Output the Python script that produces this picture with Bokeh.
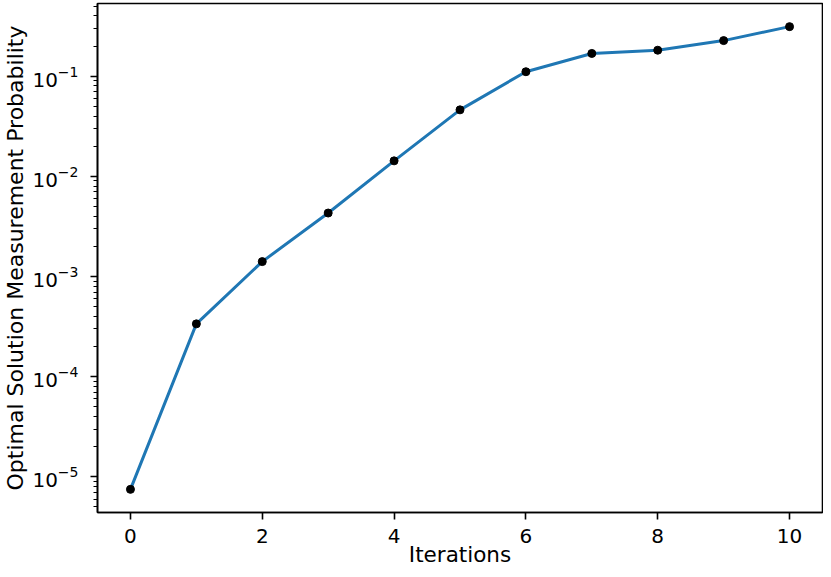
import math
from bokeh.plotting import figure
from bokeh.models import FixedTicker, Range1d, ColumnDataSource
from bokeh.embed import file_html
from bokeh.resources import INLINE

iterations = [0, 1, 2, 3, 4, 5, 6, 7, 8, 9, 10]
probability = [7.5e-6, 3.37e-4, 1.41e-3, 4.31e-3, 1.43e-2, 4.62e-2,
               0.111, 0.169, 0.182, 0.227, 0.313]
x_ticks = [0, 2, 4, 6, 8, 10]
y_decades = [-5, -4, -3, -2, -1]
x_label = "Iterations"
y_label = "Optimal Solution Measurement Probability"

src = ColumnDataSource(dict(x=iterations, y=probability))

xmin, xmax = min(iterations), max(iterations)
xpad = 0.05 * (xmax - xmin)
lmin, lmax = math.log10(min(probability)), math.log10(max(probability))
lpad = 0.05 * (lmax - lmin)

p = figure(width=823, height=569, y_axis_type="log", output_backend="svg",
           toolbar_location=None,
           x_range=Range1d(xmin - xpad, xmax + xpad),
           y_range=Range1d(10 ** (lmin - lpad), 10 ** (lmax + lpad)),
           min_border_left=97, min_border_right=1, min_border_top=3,
           min_border_bottom=57)

p.xgrid.visible = False
p.ygrid.visible = False
p.outline_line_color = "black"
p.outline_line_width = 1.6
p.outline_line_alpha = 1.0
p.background_fill_color = "white"
p.border_fill_color = "white"

p.line("x", "y", source=src, line_width=3, color="#1f77b4")
p.scatter("x", "y", source=src, size=8, color="black")

p.xaxis.ticker = FixedTicker(ticks=x_ticks)
p.yaxis.ticker = FixedTicker(
    ticks=[10.0 ** d for d in y_decades],
    minor_ticks=[m * 10.0 ** d for d in range(-6, 1) for m in range(2, 10)])

for ax in (p.xaxis[0], p.yaxis[0]):
    ax.axis_line_color = "black"
    ax.axis_line_width = 1.6
    ax.major_tick_line_color = "black"
    ax.major_tick_line_width = 1.6
    ax.major_tick_in = 0
    ax.major_tick_out = 7
    ax.minor_tick_line_color = "black"
    ax.minor_tick_line_width = 1.2
    ax.minor_tick_in = 0
    ax.minor_tick_out = 4
    ax.major_label_text_font = "DejaVu Sans"
    ax.major_label_text_font_size = "20px"
    ax.major_label_text_color = "black"
    ax.axis_label_text_font = "DejaVu Sans"
    ax.axis_label_text_font_style = "normal"
    ax.axis_label_text_color = "black"

p.xaxis.axis_label = x_label
p.yaxis.axis_label = y_label
p.xaxis.axis_label_text_font_size = "21.5px"
p.yaxis.axis_label_text_font_size = "22px"
p.xaxis.major_label_standoff = 9
p.xaxis.axis_label_standoff = -4
p.yaxis.major_label_standoff = 12
p.yaxis.axis_label_standoff = 1

open("out.html", "w").write(file_html(p, INLINE))
